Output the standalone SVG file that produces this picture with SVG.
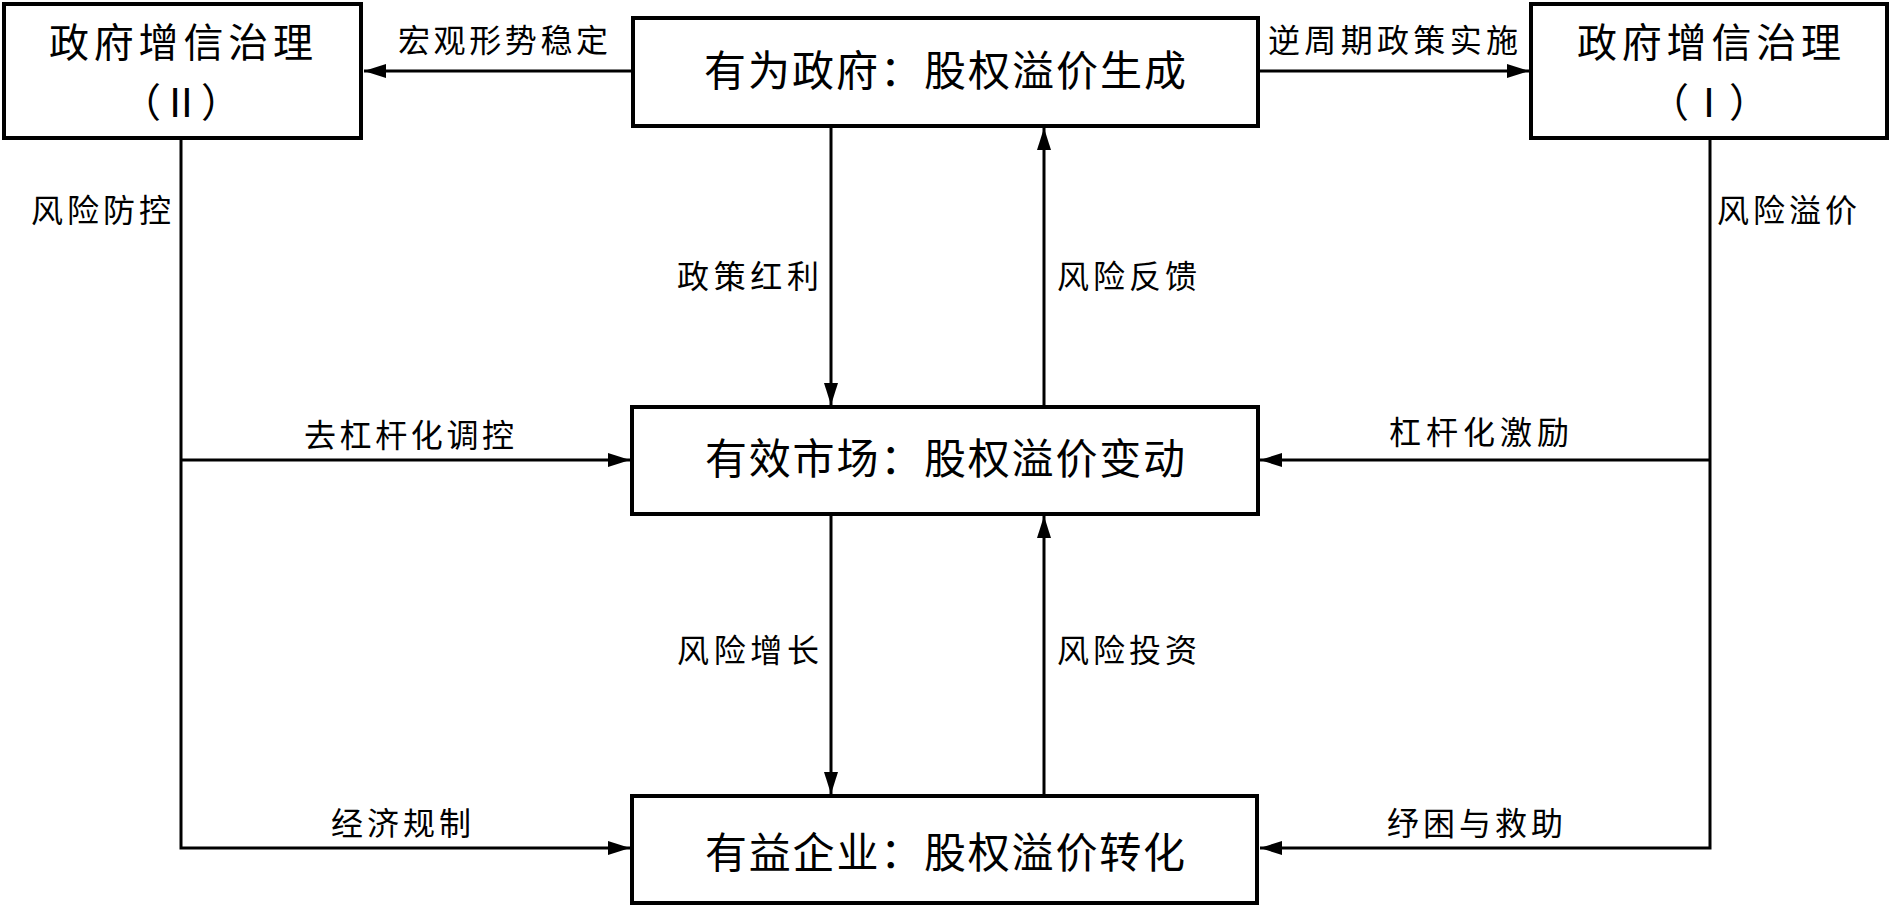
<svg xmlns="http://www.w3.org/2000/svg" width="1891" height="906" viewBox="0 0 1891 906">
<style>
.box{fill:#fff;stroke:#000;stroke-width:4}
.ln{fill:none;stroke:#000;stroke-width:3}
.t{font-family:"Noto Sans CJK SC","Liberation Sans",sans-serif;fill:#000;text-anchor:middle}
.bt{font-size:42px}
.st{font-size:40px}
.lt{font-size:32px}
</style>
<defs>
<marker id="ah" markerUnits="userSpaceOnUse" markerWidth="24" markerHeight="16" refX="22" refY="7" orient="auto">
<path d="M0,0 L22,7 L0,14 Z" fill="#000"/>
</marker>
</defs>
<rect width="1891" height="906" fill="#fff"/>
<g id="connectors">
<line class="ln" x1="633" y1="71" x2="364" y2="71" marker-end="url(#ah)"/>
<line class="ln" x1="1258" y1="71" x2="1529" y2="71" marker-end="url(#ah)"/>
<line class="ln" x1="831" y1="126" x2="831" y2="405" marker-end="url(#ah)"/>
<line class="ln" x1="1044" y1="407" x2="1044" y2="128" marker-end="url(#ah)"/>
<line class="ln" x1="831" y1="514" x2="831" y2="794" marker-end="url(#ah)"/>
<line class="ln" x1="1044" y1="796" x2="1044" y2="516" marker-end="url(#ah)"/>
<polyline class="ln" points="181,139 181,848 630,848" marker-end="url(#ah)"/>
<line class="ln" x1="181" y1="460" x2="630" y2="460" marker-end="url(#ah)"/>
<polyline class="ln" points="1710,139 1710,848 1260,848" marker-end="url(#ah)"/>
<line class="ln" x1="1710" y1="460" x2="1260" y2="460" marker-end="url(#ah)"/>
<text class="t lt" x="503" y="52" textLength="210">宏观形势稳定</text>
<text class="t lt" x="1393" y="52" textLength="250">逆周期政策实施</text>
<text class="t lt" x="101" y="222" textLength="140">风险防控</text>
<text class="t lt" x="1787" y="222" textLength="140">风险溢价</text>
<text class="t lt" x="748" y="288" textLength="142">政策红利</text>
<text class="t lt" x="1127" y="288" textLength="140">风险反馈</text>
<text class="t lt" x="409" y="447" textLength="210">去杠杆化调控</text>
<text class="t lt" x="1479" y="444" textLength="180">杠杆化激励</text>
<text class="t lt" x="748" y="662" textLength="142">风险增长</text>
<text class="t lt" x="1127" y="662" textLength="140">风险投资</text>
<text class="t lt" x="401" y="835" textLength="140">经济规制</text>
<text class="t lt" x="1475" y="835" textLength="176">纾困与救助</text>
</g>
<g id="node-gov2">
<rect class="box" x="4" y="4" width="357" height="134"/>
<text class="t st" x="181" y="57" textLength="264">政府增信治理</text>
<text class="t st" x="181" y="117">（Ⅱ）</text>
</g>
<g id="node-gov1">
<rect class="box" x="1531" y="4" width="356" height="134"/>
<text class="t st" x="1709" y="57" textLength="264">政府增信治理</text>
<text class="t st" x="1709" y="117">（Ⅰ）</text>
</g>
<g id="node-top">
<rect class="box" x="633" y="18" width="625" height="108"/>
<text class="t bt" x="945" y="86" textLength="482">有为政府：股权溢价生成</text>
</g>
<g id="node-mid">
<rect class="box" x="632" y="407" width="626" height="107"/>
<text class="t bt" x="945" y="474" textLength="480">有效市场：股权溢价变动</text>
</g>
<g id="node-bot">
<rect class="box" x="632" y="796" width="625" height="107"/>
<text class="t bt" x="945" y="868" textLength="480">有益企业：股权溢价转化</text>
</g>
</svg>
